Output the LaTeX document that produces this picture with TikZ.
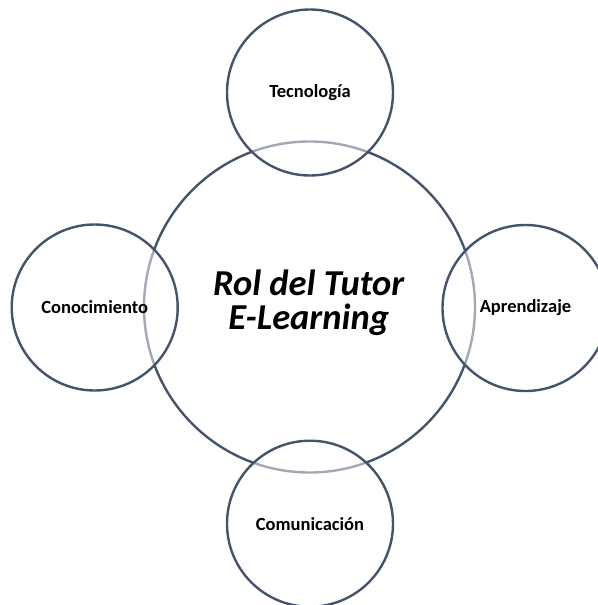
\documentclass[tikz,border=0pt]{standalone}
\usepackage{fontspec}
\setmainfont{Carlito}
\definecolor{ringcol}{HTML}{44546A}
\begin{document}
\begin{tikzpicture}[x=1bp,y=-1bp,
  bigring/.style={circle,draw=ringcol,line width=2.4bp,minimum size=331bp,inner sep=0pt},
  smallring/.style={circle,draw=ringcol,line width=2.4bp,minimum size=166bp,inner sep=0pt,
    fill=white,fill opacity=0.5,draw opacity=1,text opacity=1,
    font=\fontsize{18.5bp}{21bp}\selectfont\bfseries}]
\useasboundingbox (0,0) rectangle (598,605);
\node[bigring] (center) at (309.5,307) {};
\node[smallring] (tec) at (310,92.5) {Tecnología};
\node[smallring] (con) at (94.7,307.5) {Conocimiento};
\node[smallring] (apr) at (525.5,308) {Aprendizaje};
\node[smallring] (com) at (310,523.7) {Comunicación};
\node[font=\fontsize{36.5bp}{34bp}\selectfont\bfseries\itshape,align=center] (title) at (308.7,303) {Rol del Tutor\\E-Learning};
\end{tikzpicture}
\end{document}
